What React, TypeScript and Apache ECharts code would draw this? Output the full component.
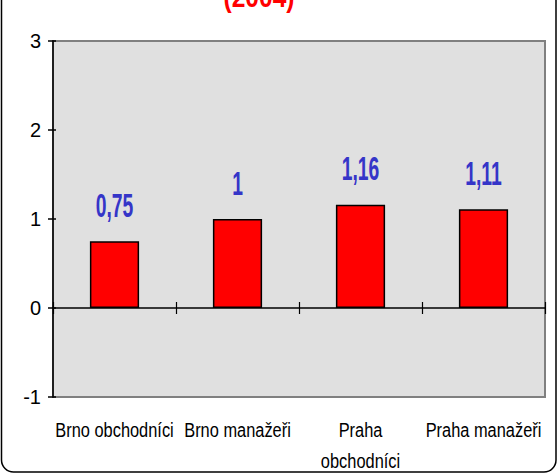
import React, { useEffect, useRef } from "react";
import * as echarts from "echarts";

const categories: string[] = ["Brno obchodníci", "Brno manažeři", "Praha\nobchodníci", "Praha manažeři"];
const values: number[] = [0.75, 1, 1.16, 1.11];
const yMin = -1;
const yMax = 3;
const yInterval = 1;
const titleText = "(2004)";

const SANS = "'Liberation Sans', Arial, sans-serif";

export default function App() {
  const ref = useRef<HTMLDivElement>(null);
  useEffect(() => {
    if (!ref.current) return;
    const chart = echarts.init(ref.current, null, { renderer: "svg" });
    const yAxisBase = {
      type: "value",
      min: yMin,
      max: yMax,
      interval: yInterval,
      splitLine: { show: false },
      position: "left",
    };
    chart.setOption({
      animation: false,
      backgroundColor: "#ffffff",
      grid: {
        left: 53,
        right: 13,
        top: 41,
        bottom: 78,
        show: true,
        backgroundColor: "#E0E0E0",
        borderColor: "#808080",
        borderWidth: 2,
      },
      graphic: [
        {
          type: "rect",
          shape: { x: 1.5, y: -30, width: 554.5, height: 502, r: 12 },
          style: { fill: "none", stroke: "#000", lineWidth: 1.5 },
          z: 100,
        },
        {
          type: "text",
          x: 259,
          y: 12,
          scaleX: 0.82,
          style: {
            text: titleText,
            fill: "#FF0000",
            font: `bold 30px ${SANS}`,
            align: "center",
            verticalAlign: "bottom",
          },
        },
      ],
      xAxis: [
        {
          type: "category",
          data: categories,
          position: "bottom",
          axisLine: { onZero: true, lineStyle: { color: "#000", width: 1.5 } },
          axisTick: { show: true, inside: false, length: 6, lineStyle: { color: "#000", width: 1.2 } },
          axisLabel: { show: false },
          splitLine: { show: false },
        },
        {
          type: "category",
          data: categories,
          position: "top",
          axisLine: { show: false, onZero: true },
          axisTick: { show: true, inside: false, length: 6, lineStyle: { color: "#000", width: 1.2 } },
          axisLabel: { show: false },
          splitLine: { show: false },
        },
      ],
      yAxis: [
        {
          ...yAxisBase,
          axisLine: { show: true, lineStyle: { color: "#000", width: 1.5 } },
          axisTick: { show: true, inside: false, length: 5, lineStyle: { color: "#000", width: 1.5 } },
          axisLabel: { color: "#000", fontFamily: SANS, fontSize: 20, margin: 12 },
        },
        {
          ...yAxisBase,
          axisLine: { show: false },
          axisTick: { show: true, inside: true, length: 3, lineStyle: { color: "#000", width: 1.5 } },
          axisLabel: { show: false },
        },
      ],
      series: [
        {
          type: "bar",
          xAxisIndex: 0,
          yAxisIndex: 0,
          data: values,
          barWidth: "40%",
          itemStyle: { color: "#FF0000", borderColor: "#000", borderWidth: 1.5 },
          z: 3,
        },
        {
          type: "custom",
          xAxisIndex: 0,
          yAxisIndex: 0,
          data: values.map((v, i) => [i, v]),
          z: 5,
          clip: false,
          renderItem: (params: any, api: any) => {
            const p = api.coord([api.value(0), api.value(1)]);
            const v = api.value(1);
            return {
              type: "text",
              x: p[0],
              y: p[1] - 36,
              scaleX: 0.84,
              scaleY: 1.45,
              style: {
                text: String(v).replace(".", ","),
                fill: "#3535C8",
                font: `bold 23px ${SANS}`,
                align: "center",
                verticalAlign: "middle",
              },
            };
          },
        },
        {
          type: "custom",
          xAxisIndex: 0,
          yAxisIndex: 0,
          data: categories.map((c, i) => [i, yMin]),
          z: 5,
          clip: false,
          renderItem: (params: any, api: any) => {
            const p = api.coord([api.value(0), api.value(1)]);
            const name = categories[params.dataIndex];
            return {
              type: "text",
              x: p[0],
              y: p[1] + 18,
              scaleX: 0.82,
              scaleY: 1.05,
              style: {
                text: name,
                fill: "#000",
                font: `20px ${SANS}`,
                lineHeight: 29,
                align: "center",
                verticalAlign: "top",
              },
            };
          },
        },
      ],
    });
    return () => chart.dispose();
  }, []);
  return (
    <div
      ref={ref}
      style={{ position: "fixed", left: 0, top: 0, width: 558, height: 475 }}
    />
  );
}
